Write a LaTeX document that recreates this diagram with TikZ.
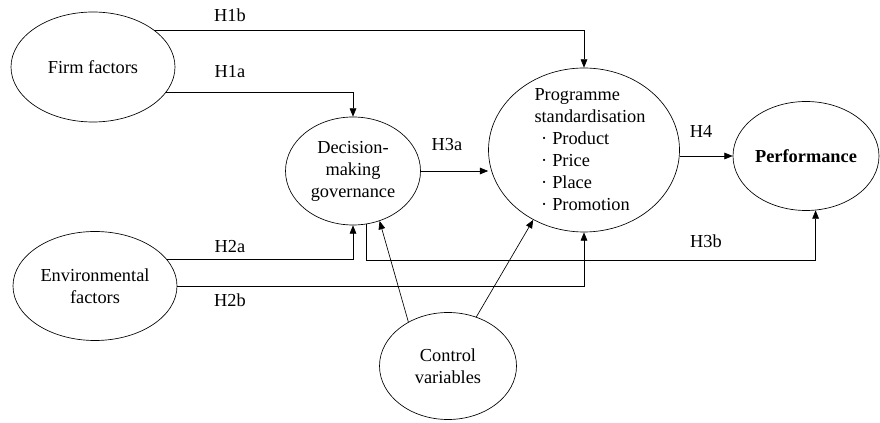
\documentclass[tikz,border=0pt]{standalone}
\usepackage{fontspec}
\setmainfont{Liberation Serif}
\usetikzlibrary{shapes.geometric, arrows.meta}

\begin{document}
\begin{tikzpicture}[x=0.6pt, y=-0.6pt, >={Triangle[length=5pt, width=4pt]},
  font=\rmfamily\fontsize{11}{13.2}\selectfont,
  var/.style={shape=ellipse, draw, inner sep=0pt, align=center}]
\useasboundingbox (0, 0) rectangle (880, 423);
\node at (93, 67) [var, minimum width=98.4pt, minimum height=66pt] (firm) {Firm factors};
\node at (95, 286) [var, minimum width=98.4pt, minimum height=65.4pt] (env) {Environmental\\factors};
\node at (353, 171) [var, minimum width=81pt, minimum height=64.8pt] (dec) {Decision-\\making\\governance};
\node at (584, 150) [var, minimum width=114.6pt, minimum height=98.4pt] (prog) {};
\node at (590, 150) [align=left] (progtext) {Programme\\standardisation\\\hspace*{4pt}·\hspace{3pt}Product\\\hspace*{4pt}·\hspace{3pt}Price\\\hspace*{4pt}·\hspace{3pt}Place\\\hspace*{4pt}·\hspace{3pt}Promotion};
\node at (806, 156) [var, minimum width=87.6pt, minimum height=65.4pt] (perf) {\textbf{Performance}};
\node at (448, 366) [var, minimum width=82.2pt, minimum height=64.2pt] (ctrl) {Control\\variables};
% hypothesis labels
\node at (230, 15) (h1b) {H1b};
\node at (230, 72) (h1a) {H1a};
\node at (447, 145) (h3a) {H3a};
\node at (701, 131) (h4) {H4};
\node at (230, 247) (h2a) {H2a};
\node at (230, 300) (h2b) {H2b};
\node at (706, 241) (h3b) {H3b};
\draw [->] (firm.31) -| (prog.north);
\draw [->] (firm.-19) -| (dec.north);
\draw [->] (dec.east) -- (dec.east -| prog.west);
\draw [->] (prog.east |- perf.west) -- (perf.west);
\draw [->] (env.20) -| (dec.south);
\draw [->] (env.east) -| (prog.south);
\draw [->] (dec.-76) -- ++(0, 36) -| (perf.-80);
\draw [->] (ctrl.132) -- (dec.-62);
\draw [->] (ctrl.60) -- (prog.234);
\end{tikzpicture}
\end{document}
